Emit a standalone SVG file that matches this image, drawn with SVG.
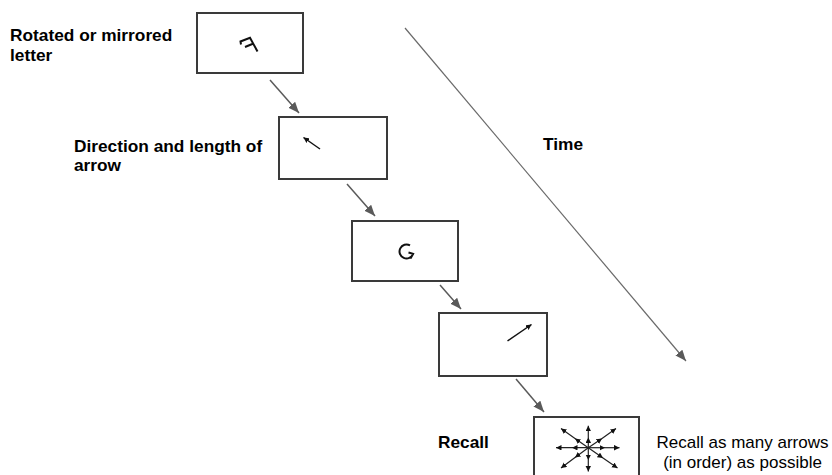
<svg xmlns="http://www.w3.org/2000/svg" width="832" height="475" viewBox="0 0 832 475">
  <style>
    .box { fill: #ffffff; stroke: #3a3a3a; stroke-width: 2; }
    .conn { fill: none; stroke: #5a5a5a; stroke-width: 1.5; marker-end: url(#head); }
    .time { fill: none; stroke: #6a6a6a; stroke-width: 1.2; marker-end: url(#head); }
    .glyph { fill: none; stroke: #111111; stroke-width: 2; stroke-linecap: butt; stroke-linejoin: miter; }
    .stim { fill: none; stroke: #111111; stroke-width: 1.5; marker-end: url(#tip); }
    .arm { fill: none; stroke: #222222; stroke-width: 1.2; marker-mid: url(#tip); marker-end: url(#tip); }
    .lbl { font-family: "Liberation Sans", Arial, sans-serif; font-size: 17.3px; font-weight: bold; fill: #000000; }
    .note { font-family: "Liberation Sans", Arial, sans-serif; font-size: 17px; fill: #000000; text-anchor: middle; }
  </style>
  <defs>
    <marker id="head" markerUnits="userSpaceOnUse" markerWidth="12" markerHeight="10" refX="11" refY="4.5" orient="auto">
      <path d="M0,0 L11,4.5 L0,9 z" fill="#5a5a5a"/>
    </marker>
    <marker id="tip" markerUnits="userSpaceOnUse" markerWidth="7" markerHeight="6" refX="5.5" refY="2.75" orient="auto">
      <path d="M0,0 L5.5,2.75 L0,5.5 z" fill="#111111"/>
    </marker>
  </defs>

  <!-- connectors between stages and the time axis -->
  <g id="connectors">
    <line class="conn" x1="270" y1="80" x2="299" y2="113"/>
    <line class="conn" x1="347" y1="184" x2="375" y2="216"/>
    <line class="conn" x1="440" y1="285" x2="461" y2="309"/>
    <line class="conn" x1="516" y1="379" x2="544" y2="412"/>
    <line class="time" x1="405" y1="28" x2="686" y2="361"/>
  </g>

  <!-- stage 1: rotated / mirrored letter -->
  <g id="stage-letter">
    <rect class="box" x="197" y="13" width="106" height="60"/>
    <path class="glyph" d="M241,44.5 L240.5,41.5 L250,37.8 L257.5,51.5 M245,47 L253.5,43.5"/>
    <text class="lbl" x="10" y="41">Rotated or mirrored</text>
    <text class="lbl" x="10" y="61">letter</text>
  </g>

  <!-- stage 2: arrow to remember -->
  <g id="stage-arrow">
    <rect class="box" x="279" y="117" width="108" height="62"/>
    <line class="stim" x1="320" y1="149" x2="303.5" y2="137.5"/>
    <text class="lbl" x="74" y="152">Direction and length of</text>
    <text class="lbl" x="74" y="171">arrow</text>
  </g>

  <!-- stage 3: second letter -->
  <g id="stage-letter-2">
    <rect class="box" x="352" y="221" width="106" height="60"/>
    <path class="glyph" d="M410,245.4 A7,7 0 1 0 413.1,253.9 M408.5,252.5 L413.1,253.9 L410.5,258.5"/>
  </g>

  <!-- stage 4: second arrow -->
  <g id="stage-arrow-2">
    <rect class="box" x="439" y="313" width="108" height="63"/>
    <line class="stim" x1="507.5" y1="341" x2="531.5" y2="324.5"/>
  </g>

  <!-- recall screen with all possible arrows -->
  <g id="stage-recall">
    <rect class="box" x="534" y="417" width="105" height="70"/>
    <polyline class="arm" points="588.3,447.7 588.3,437.5 588.3,425.7"/>
    <polyline class="arm" points="588.3,447.7 588.3,460 588.3,471.5"/>
    <polyline class="arm" points="588.3,447.7 572,447.7 556,447.7"/>
    <polyline class="arm" points="588.3,447.7 605,447.7 619.5,447.7"/>
    <polyline class="arm" points="588.3,447.7 575,438.5 561,428.5"/>
    <polyline class="arm" points="588.3,447.7 602,438.5 616,428.5"/>
    <polyline class="arm" points="588.3,447.7 575,457.5 561,468"/>
    <polyline class="arm" points="588.3,447.7 603,458 617.5,468"/>
    <text class="lbl" x="438" y="448">Recall</text>
    <text class="note" x="742.5" y="448">Recall as many arrows</text>
    <text class="note" x="742.5" y="468">(in order) as possible</text>
  </g>

  <!-- time axis label -->
  <g id="time-label">
    <text class="lbl" x="543" y="150">Time</text>
  </g>
</svg>
